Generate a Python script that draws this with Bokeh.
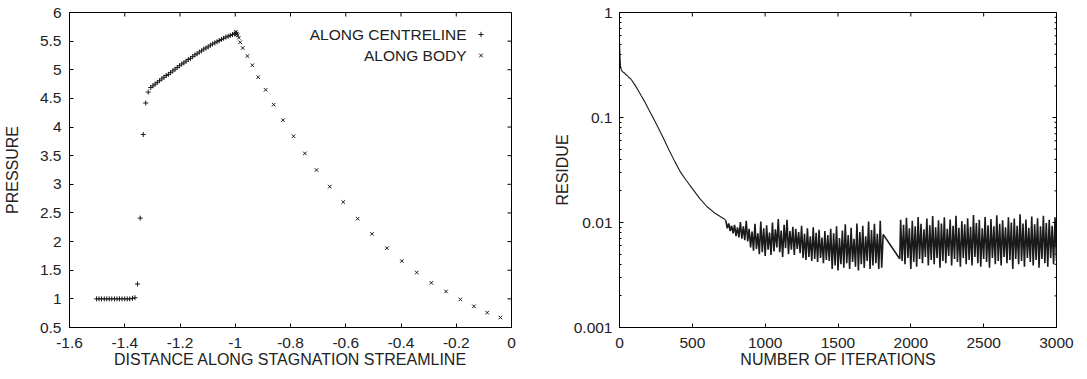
import math
from bokeh.plotting import figure
from bokeh.layouts import row
from bokeh.models import FixedTicker, Range1d, Legend, LegendItem, Label
from bokeh.embed import file_html
from bokeh.resources import INLINE

FONT = "Liberation Sans"
TXT = "#222222"
INK = "#1a1a1a"

# ---------------- left panel data ----------------
centre_x = [-1.502, -1.493, -1.484, -1.474, -1.465, -1.456, -1.447, -1.437,
            -1.428, -1.419, -1.410, -1.400, -1.391, -1.382, -1.372, -1.363,
            -1.354, -1.344, -1.333, -1.324, -1.315,
            -1.306, -1.298, -1.290, -1.282, -1.274, -1.266, -1.258, -1.250,
            -1.242, -1.234, -1.226, -1.218, -1.210, -1.202, -1.194, -1.186,
            -1.178, -1.170, -1.162, -1.154, -1.146, -1.138, -1.130, -1.122,
            -1.114, -1.106, -1.098, -1.090, -1.082, -1.074, -1.066, -1.058,
            -1.050, -1.042, -1.034, -1.026, -1.018, -1.010, -1.002, -0.999,
            -0.997]
centre_y = [1.00, 1.00, 1.00, 1.00, 1.00, 1.00, 1.00, 1.00,
            1.00, 1.00, 1.00, 1.00, 1.00, 1.00, 1.01, 1.02,
            1.26, 2.41, 3.87, 4.42, 4.61,
            4.69, 4.72, 4.75, 4.78, 4.81, 4.84, 4.87, 4.90,
            4.92, 4.95, 4.98, 5.01, 5.04, 5.07, 5.10, 5.12,
            5.15, 5.18, 5.20, 5.23, 5.26, 5.28, 5.31, 5.33,
            5.36, 5.38, 5.40, 5.43, 5.45, 5.47, 5.49, 5.51,
            5.53, 5.55, 5.57, 5.585, 5.60, 5.615, 5.625, 5.635,
            5.645]

body_x = [-0.998, -0.994, -0.991, -0.987, -0.982, -0.973, -0.956, -0.938,
          -0.917, -0.890, -0.861, -0.827, -0.789, -0.748, -0.706, -0.658,
          -0.609, -0.557, -0.505, -0.451, -0.397, -0.343, -0.290, -0.237,
          -0.185, -0.136, -0.088, -0.040]
body_y = [5.66, 5.63, 5.60, 5.56, 5.48, 5.38, 5.24, 5.08,
          4.87, 4.65, 4.39, 4.12, 3.84, 3.54, 3.25, 2.96,
          2.69, 2.40, 2.135, 1.885, 1.66, 1.46, 1.28, 1.13,
          0.99, 0.87, 0.76, 0.675]

left_xrange = (-1.6, 0)
left_yrange = (0.5, 6)
left_xticks = [-1.6, -1.4, -1.2, -1, -0.8, -0.6, -0.4, -0.2, 0]
left_xlabels = ["-1.6", "-1.4", "-1.2", "-1", "-0.8", "-0.6", "-0.4", "-0.2", "0"]
left_yticks = [0.5, 1, 1.5, 2, 2.5, 3, 3.5, 4, 4.5, 5, 5.5, 6]
left_ylabels = ["0.5", "1", "1.5", "2", "2.5", "3", "3.5", "4", "4.5", "5", "5.5", "6"]

# ---------------- right panel data ----------------
decay_iter = [0, 3, 7, 15, 25, 35, 45, 55, 65, 75, 85, 95, 110, 130, 150, 175,
              200, 230, 260, 300, 340, 380, 420, 460, 500, 550, 600, 650, 700, 720,
              730]
decay_res = [0.52, 0.40, 0.30, 0.28, 0.27, 0.265, 0.255, 0.25, 0.24, 0.235,
             0.225, 0.215, 0.20, 0.18, 0.16, 0.14, 0.12, 0.10, 0.083, 0.064,
             0.049, 0.038, 0.030, 0.025, 0.021, 0.017, 0.0142, 0.0124, 0.0112,
             0.0108, 0.0104]

# oscillating residue, iterations 730..1810 every 10
noise1_start = 730
noise1_res = [0.0104, 0.0088, 0.0098, 0.0083, 0.0093, 0.0079, 0.0095, 0.0074,
              0.0090, 0.0072, 0.0101, 0.0070, 0.0092, 0.0068, 0.0104, 0.0066,
              0.0087, 0.0058, 0.0082, 0.0054, 0.0097, 0.0056, 0.0079, 0.0050,
              0.0102, 0.0052, 0.0088, 0.0048, 0.0094, 0.0055, 0.0080, 0.0049,
              0.0100, 0.0053, 0.0086, 0.0058, 0.0108, 0.0052, 0.0084, 0.0047,
              0.0095, 0.0057, 0.0106, 0.0050, 0.0083, 0.0055, 0.0091, 0.0049,
              0.0087, 0.0056, 0.0081, 0.0051, 0.0093, 0.0046, 0.0078, 0.0044,
              0.0088, 0.0047, 0.0074, 0.0043, 0.0090, 0.0045, 0.0080, 0.0042,
              0.0085, 0.0046, 0.0072, 0.0041, 0.0083, 0.0044, 0.0076, 0.0043,
              0.0087, 0.0036, 0.0079, 0.0039, 0.0092, 0.0035, 0.0071, 0.0040,
              0.0084, 0.0037, 0.0096, 0.0041, 0.0076, 0.0036, 0.0089, 0.0042,
              0.0070, 0.0038, 0.0098, 0.0035, 0.0081, 0.0040, 0.0093, 0.0037,
              0.0074, 0.0043, 0.0102, 0.0036, 0.0085, 0.0039, 0.0097, 0.0041,
              0.0078, 0.0036, 0.0104, 0.0037, 0.0077]

# straight segment across the gap
gap_iter = [1924]
gap_res = [0.0045]

# oscillating residue, iterations 1930..3000 every 10
noise2_start = 1930
noise2_res = [0.0106, 0.0043, 0.0095, 0.0040, 0.0111, 0.0046, 0.0088, 0.0036,
              0.0104, 0.0042, 0.0092, 0.0038, 0.0113, 0.0045, 0.0097, 0.0041,
              0.0086, 0.0047, 0.0109, 0.0039, 0.0094, 0.0044, 0.0115, 0.0040,
              0.0090, 0.0046, 0.0105, 0.0037, 0.0098, 0.0043, 0.0112, 0.0041,
              0.0087, 0.0048, 0.0107, 0.0039, 0.0093, 0.0045, 0.0116, 0.0042,
              0.0089, 0.0038, 0.0103, 0.0046, 0.0096, 0.0040, 0.0110, 0.0044,
              0.0091, 0.0039, 0.0118, 0.0047, 0.0099, 0.0041, 0.0106, 0.0038,
              0.0088, 0.0045, 0.0113, 0.0042, 0.0094, 0.0037, 0.0108, 0.0046,
              0.0092, 0.0040, 0.0117, 0.0043, 0.0097, 0.0039, 0.0105, 0.0047,
              0.0090, 0.0041, 0.0112, 0.0044, 0.0100, 0.0036, 0.0109, 0.0045,
              0.0093, 0.0040, 0.0120, 0.0043, 0.0098, 0.0038, 0.0107, 0.0046,
              0.0089, 0.0042, 0.0114, 0.0039, 0.0096, 0.0044, 0.0110, 0.0037,
              0.0092, 0.0045, 0.0116, 0.0041, 0.0099, 0.0038, 0.0106, 0.0046,
              0.0093, 0.0040, 0.0112, 0.0043]

right_xrange = (0, 3000)
right_yrange = (0.001, 1)
right_xticks = [0, 500, 1000, 1500, 2000, 2500, 3000]
right_xlabels = ["0", "500", "1000", "1500", "2000", "2500", "3000"]
right_yticks = [0.001, 0.01, 0.1, 1]
right_ylabels = ["0.001", "0.01", "0.1", "1"]
right_yminor = [m * d for d in (0.001, 0.01, 0.1) for m in range(2, 10)]

noise_iter = ([noise1_start + 10 * i for i in range(len(noise1_res))]
              + gap_iter
              + [noise2_start + 10 * i for i in range(len(noise2_res))])
noise_val = noise1_res + gap_res + noise2_res

TICK_FS = "15.5px"
LABEL_FS = "16px"
FIG_H = 370
TOP = 12
BOTTOM = 43


def style_axis(ax, minor=False):
    ax.major_tick_in = 4
    ax.major_tick_out = 0
    ax.minor_tick_in = 2 if minor else 0
    ax.minor_tick_out = 0
    ax.axis_line_color = "black"
    ax.major_tick_line_color = "black"
    ax.minor_tick_line_color = "black"
    ax.major_label_text_font = FONT
    ax.major_label_text_color = TXT
    ax.major_label_text_font_size = TICK_FS
    ax.axis_label_text_font = FONT
    ax.axis_label_text_font_size = LABEL_FS
    ax.axis_label_text_font_style = "normal"
    ax.axis_label_text_color = TXT


def base_fig(**kw):
    p = figure(output_backend="svg", toolbar_location=None, **kw)
    p.xgrid.visible = False
    p.ygrid.visible = False
    p.outline_line_color = "black"
    p.outline_line_width = 1
    p.background_fill_color = "white"
    p.border_fill_color = "white"
    return p


def mirror_ticks(p, xticks, yticks, xr, yr, yminor=None):
    # inward tick marks on the top and right frame edges (gnuplot style)
    p.ray(x=xticks, y=[yr[1]] * len(xticks), length=4, length_units="screen",
          angle=-math.pi / 2, line_color="black", line_width=1)
    p.ray(x=[xr[1]] * len(yticks), y=yticks, length=4, length_units="screen",
          angle=math.pi, line_color="black", line_width=1)
    if yminor:
        p.ray(x=[xr[1]] * len(yminor), y=yminor, length=2, length_units="screen",
              angle=math.pi, line_color="black", line_width=1)


# ---------------- left figure ----------------
p1 = base_fig(width=532, height=FIG_H,
              x_range=Range1d(*left_xrange), y_range=Range1d(*left_yrange),
              min_border_left=63, min_border_right=21,
              min_border_top=TOP, min_border_bottom=BOTTOM)

p1.xaxis.ticker = FixedTicker(ticks=left_xticks)
p1.yaxis.ticker = FixedTicker(ticks=left_yticks)
p1.xaxis.major_label_overrides = dict(zip(left_xticks, left_xlabels))
p1.yaxis.major_label_overrides = dict(zip(left_yticks, left_ylabels))
p1.xaxis.axis_label = "DISTANCE ALONG STAGNATION STREAMLINE"
p1.yaxis.axis_label = "PRESSURE"
for ax in p1.xaxis + p1.yaxis:
    style_axis(ax)
p1.xaxis.major_label_standoff = 10
p1.xaxis.axis_label_standoff = 0
p1.yaxis.major_label_standoff = 8
p1.yaxis.axis_label_standoff = 16
mirror_ticks(p1, left_xticks, left_yticks, left_xrange, left_yrange)

r_cl = p1.scatter(centre_x, centre_y, marker="cross", size=5,
                  line_color=INK, line_width=1)
r_bd = p1.scatter(body_x, body_y, marker="x", size=5,
                  line_color=INK, line_width=1)

legend = Legend(items=[LegendItem(label=" ", renderers=[r_cl]),
                       LegendItem(label=" ", renderers=[r_bd])],
                location=(405, 263), orientation="vertical",
                padding=0, margin=0, spacing=3,
                glyph_width=13, glyph_height=18, label_height=18,
                label_width=0, label_standoff=0,
                border_line_color=None, background_fill_alpha=0,
                label_text_font_size="15px")
p1.add_layout(legend)

for txt, yy in (("ALONG CENTRELINE", 293), ("ALONG BODY", 272)):
    p1.add_layout(Label(x=397, y=yy, x_units="screen", y_units="screen",
                        text=txt, text_align="right", text_baseline="middle",
                        text_font=FONT, text_font_size=TICK_FS,
                        text_color=TXT))

# ---------------- right figure ----------------
p2 = base_fig(width=544, height=FIG_H, y_axis_type="log",
              x_range=Range1d(*right_xrange), y_range=Range1d(*right_yrange),
              min_border_left=87, min_border_right=20,
              min_border_top=TOP, min_border_bottom=BOTTOM)

p2.xaxis.ticker = FixedTicker(ticks=right_xticks)
p2.yaxis.ticker = FixedTicker(ticks=right_yticks, minor_ticks=right_yminor)
p2.xaxis.major_label_overrides = dict(zip(right_xticks, right_xlabels))
p2.yaxis.major_label_overrides = dict(zip(right_yticks, right_ylabels))
p2.xaxis.axis_label = "NUMBER OF ITERATIONS"
p2.yaxis.axis_label = "RESIDUE"
for ax in p2.xaxis:
    style_axis(ax)
for ax in p2.yaxis:
    style_axis(ax, minor=True)
p2.xaxis.major_label_standoff = 10
p2.xaxis.axis_label_standoff = 0
p2.yaxis.major_label_standoff = 7
p2.yaxis.axis_label_standoff = 0
mirror_ticks(p2, right_xticks, right_yticks, right_xrange, right_yrange,
             right_yminor)

p2.line(decay_iter, decay_res, line_color=INK, line_width=1.1)
p2.line(noise_iter, noise_val, line_color=INK, line_width=1.6)

layout = row(p1, p2)
open("out.html", "w").write(file_html(layout, INLINE))
